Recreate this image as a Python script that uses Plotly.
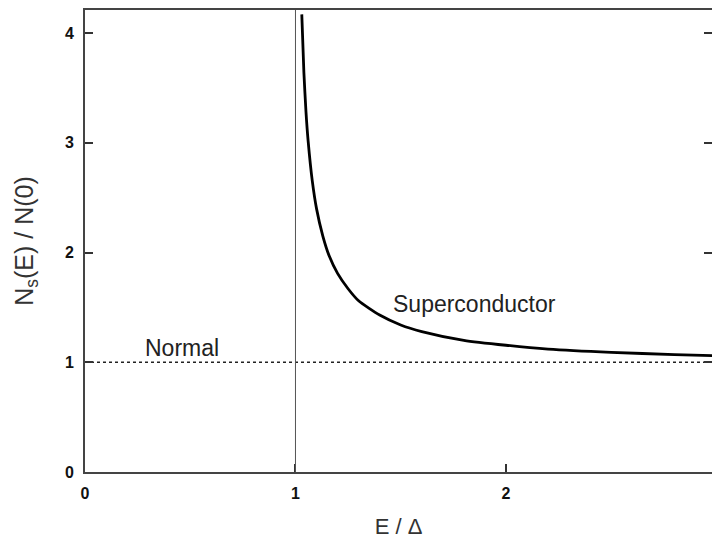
import plotly.graph_objects as go

# Reduced energy E/Δ and superconducting density of states N_s(E)/N(0)
energy = [1.03, 1.04, 1.05, 1.06, 1.08, 1.10, 1.13, 1.16, 1.20, 1.25, 1.30,
          1.40, 1.50, 1.60, 1.80, 2.00, 2.20, 2.50, 2.80, 3.00]
dos_super = [4.17, 3.64, 3.28, 3.02, 2.65, 2.40, 2.15, 1.97, 1.81, 1.67, 1.56,
             1.43, 1.34, 1.28, 1.20, 1.155, 1.12, 1.09, 1.07, 1.06]

# Normal-state density of states (flat)
normal_x = [0, 3]
normal_y = [1, 1]

gap_edge = 1.0

x_ticks = [0, 1, 2, 3]
y_ticks = [0, 1, 2, 3, 4]
x_range = [0, 2.979]
y_range = [0, 4.21]

fig = go.Figure()

fig.add_trace(go.Scatter(
    x=normal_x, y=normal_y, mode="lines",
    line=dict(color="#222222", width=1.5, dash="dot"),
    hoverinfo="skip", showlegend=False,
))

fig.add_trace(go.Scatter(
    x=energy, y=dos_super, mode="lines",
    line=dict(color="black", width=2.8, shape="spline", smoothing=0.6),
    showlegend=False,
))

# invisible trace so the right-hand tick axis is drawn
fig.add_trace(go.Scatter(
    x=[0], y=[0], yaxis="y2", mode="markers",
    marker=dict(opacity=0), hoverinfo="skip", showlegend=False,
))

fig.add_shape(
    type="line", xref="x", yref="y",
    x0=gap_edge, x1=gap_edge, y0=0, y1=y_range[1],
    line=dict(color="#555555", width=1),
)

label_font = dict(family="Liberation Sans, Arial", size=23, color="#222222")
fig.add_annotation(x=0.46, y=1.13, text="Normal", showarrow=False, font=label_font)
fig.add_annotation(x=1.85, y=1.53, text="Superconductor", showarrow=False, font=label_font)

tick_font = dict(family="Liberation Sans, Arial", size=16, color="#111111")

fig.update_layout(
    width=712, height=539,
    margin=dict(l=85, r=0, t=10, b=67),
    paper_bgcolor="white", plot_bgcolor="white",
    xaxis=dict(
        range=x_range, tickvals=x_ticks, ticktext=[f"<b>{v}</b>" for v in x_ticks],
        ticks="inside", ticklen=8, tickwidth=1.5, tickcolor="#333333",
        ticklabelstandoff=6,
        showline=True, linecolor="#444444", linewidth=2, mirror=True,
        showgrid=False, zeroline=False, tickfont=tick_font,
        title=dict(text="E / Δ", standoff=18,
                   font=dict(family="Liberation Sans, Arial", size=22, color="#333333")),
    ),
    yaxis=dict(
        range=y_range, tickvals=y_ticks, ticktext=[f"<b>{v}</b>" for v in y_ticks],
        ticks="inside", ticklen=8, tickwidth=1.5, tickcolor="#333333",
        ticklabelstandoff=6,
        showline=True, linecolor="#444444", linewidth=2,
        showgrid=False, zeroline=False, tickfont=tick_font,
        title=dict(text="N<sub>s</sub>(E) / N(0)", standoff=24,
                   font=dict(family="Liberation Sans, Arial", size=25, color="#333333")),
    ),
    yaxis2=dict(
        range=y_range, overlaying="y", side="right", tickvals=y_ticks,
        ticks="inside", ticklen=8, tickwidth=1.5, tickcolor="#333333",
        showticklabels=False, showline=False, showgrid=False, zeroline=False,
    ),
)

fig.write_html("out.html")
